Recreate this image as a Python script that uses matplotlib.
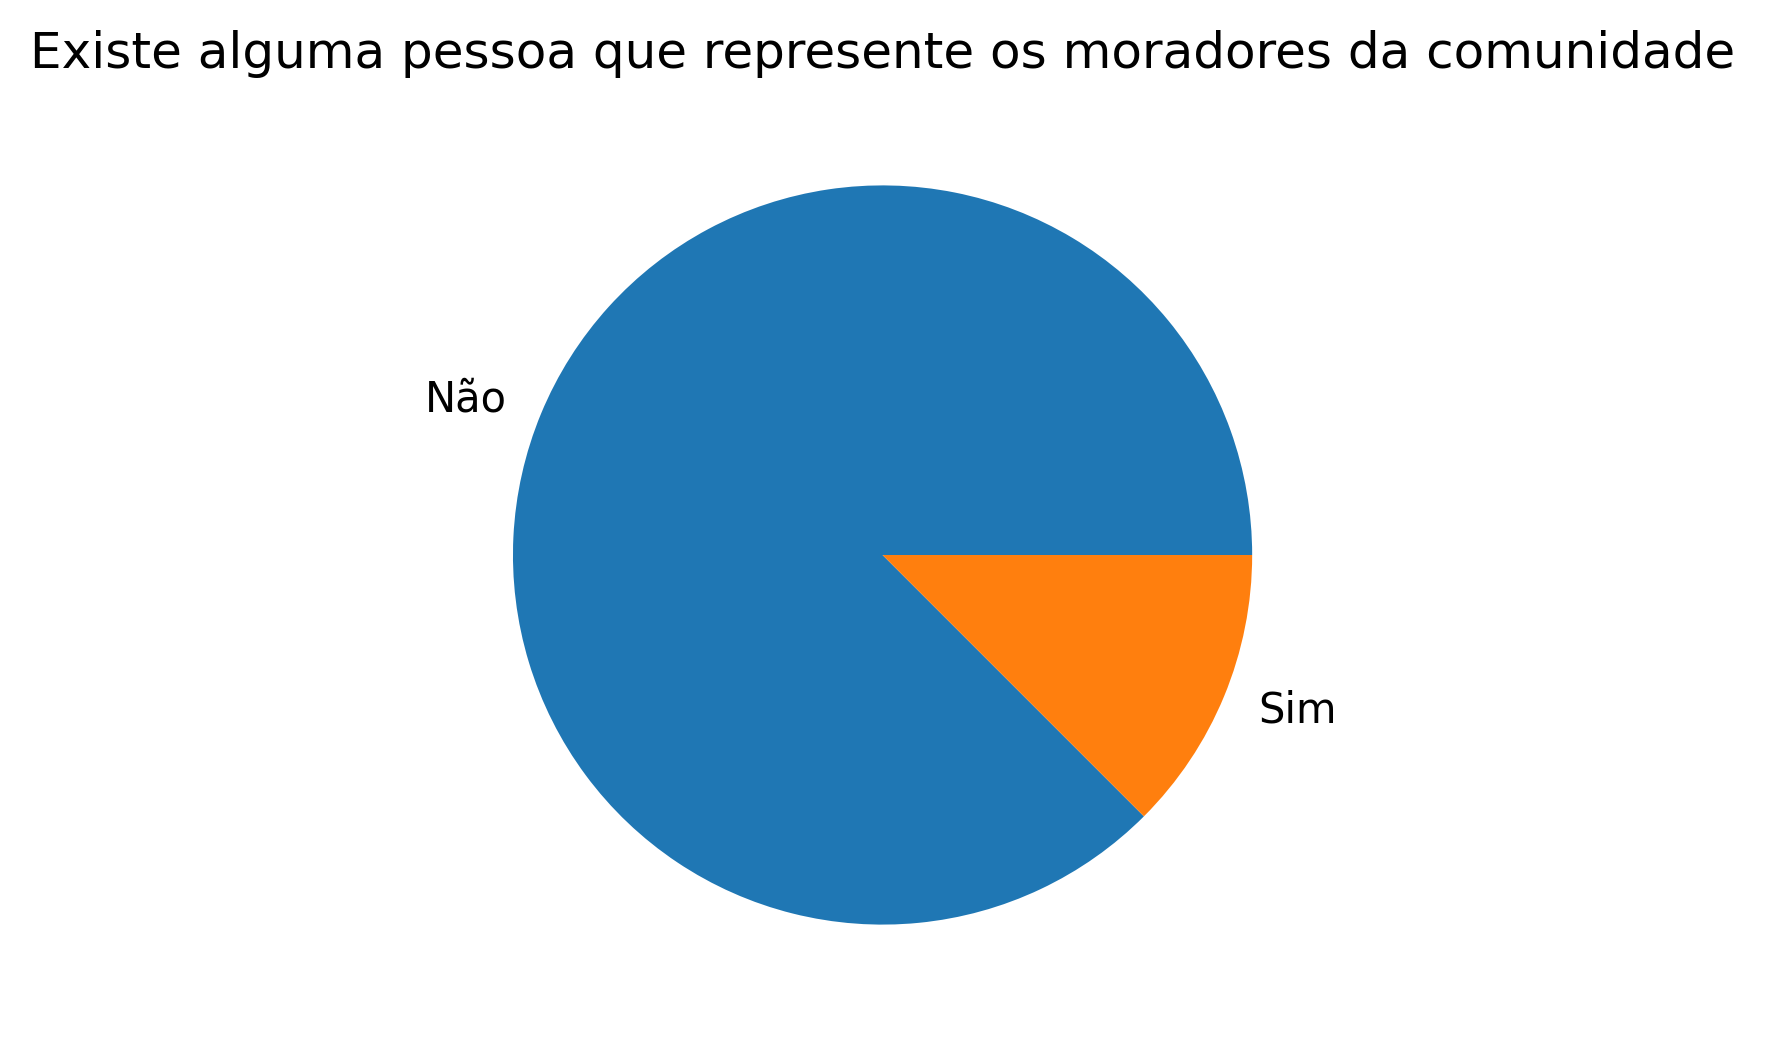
import matplotlib
matplotlib.use("Agg")
import matplotlib.pyplot as plt

labels = ["Não", "Sim"]
values = [35, 5]

fig, ax = plt.subplots(figsize=(6, 4), dpi=300)
ax.pie(values, labels=labels)
ax.set_title("Existe alguma pessoa que represente os moradores da comunidade")
fig.savefig("out.png", dpi=300, bbox_inches="tight")
